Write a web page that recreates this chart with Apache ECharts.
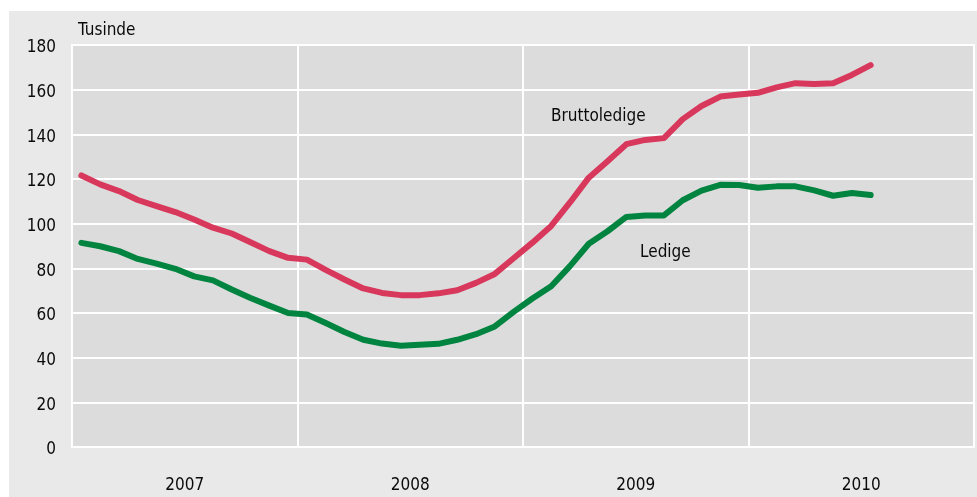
<!DOCTYPE html>
<html>
<head>
<meta charset="utf-8">
<script src="https://cdn.jsdelivr.net/npm/echarts@6/dist/echarts.min.js"></script>
<style>
html,body{margin:0;padding:0;background:#ffffff;}
#chart{width:977px;height:497px;}
</style>
</head>
<body>
<div id="chart"></div>
<script>
// Year labels on the x axis
const years = ['2007', '2008', '2009', '2010'];
// Monthly values, Jan 2007 - Jul 2010 (thousands)
const bruttoledige = [
  121.6, 117.6, 114.6, 110.6, 107.9, 105.2, 101.9, 98.2, 95.6, 91.7, 87.7, 84.7,
  83.9, 79.3, 75.0, 71.0, 69.0, 68.0, 68.0, 68.8, 70.2, 73.5, 77.5, 84.5,
  91.5, 99.0, 109.5, 120.6, 128.0, 135.6, 137.5, 138.3, 146.8, 152.7, 156.9, 157.8,
  158.6, 161.0, 162.9, 162.5, 162.9, 166.6, 171.0
];
const ledige = [
  91.4, 89.9, 87.7, 84.2, 82.1, 79.8, 76.4, 74.6, 70.5, 66.7, 63.3, 60.0,
  59.3, 55.5, 51.5, 48.0, 46.3, 45.3, 45.8, 46.2, 48.0, 50.5, 54.0, 60.5,
  66.5, 72.0, 81.0, 91.0, 96.6, 103.0, 103.7, 103.7, 110.5, 114.8, 117.4, 117.3,
  116.1, 116.7, 116.7, 114.9, 112.5, 113.7, 112.8
];
const seriesNames = ['Bruttoledige', 'Ledige'];
const unitLabel = 'Tusinde';

const FONT = '"DejaVu Sans Condensed", "DejaVu Sans", sans-serif';
const chart = echarts.init(document.getElementById('chart'), null, {renderer: 'canvas'});

const toPoints = arr => arr.map((v, i) => [i + 0.5, v]);

chart.setOption({
  backgroundColor: '#ffffff',
  animation: false,
  graphic: [
    {type: 'rect', left: 9, top: 11, z: -10, shape: {width: 968, height: 486}, style: {fill: '#e9e9e9'}},
    {type: 'text', left: 78, top: 22, style: {text: unitLabel, font: '17px ' + FONT, fill: '#0a0a0a'}},
    {type: 'text', left: 551, top: 108, z: 10, style: {text: seriesNames[0], font: '17px ' + FONT, fill: '#0a0a0a'}},
    {type: 'text', left: 640, top: 244, z: 10, style: {text: seriesNames[1], font: '17px ' + FONT, fill: '#0a0a0a'}}
  ],
  grid: {
    left: 72, top: 45, right: 3, bottom: 50,
    show: true, backgroundColor: '#dcdcdc', borderColor: '#ffffff', borderWidth: 2
  },
  xAxis: [
    {
      type: 'value', min: 0, max: 48, interval: 12,
      axisLine: {show: false}, axisTick: {show: false}, axisLabel: {show: false},
      splitLine: {show: true, lineStyle: {color: '#ffffff', width: 2}}
    },
    {
      type: 'category', data: years, position: 'bottom', boundaryGap: true,
      axisLine: {show: false}, axisTick: {show: false}, splitLine: {show: false},
      axisLabel: {margin: 30, fontSize: 17, fontFamily: FONT, color: '#0a0a0a'}
    }
  ],
  yAxis: {
    type: 'value', min: 0, max: 180, interval: 20,
    axisLine: {show: false}, axisTick: {show: false},
    axisLabel: {
      margin: 16, formatter: '{v|{value}}',
      rich: {v: {fontSize: 17, fontFamily: FONT, color: '#0a0a0a', padding: [6, 0, 0, 0]}}
    },
    splitLine: {show: true, lineStyle: {color: '#ffffff', width: 2}}
  },
  series: [
    {
      name: seriesNames[0], type: 'line', xAxisIndex: 0, data: toPoints(bruttoledige),
      showSymbol: false, smooth: false,
      lineStyle: {color: '#d8385b', width: 6, cap: 'round', join: 'round'}
    },
    {
      name: seriesNames[1], type: 'line', xAxisIndex: 0, data: toPoints(ledige),
      showSymbol: false, smooth: false,
      lineStyle: {color: '#00843f', width: 6, cap: 'round', join: 'round'}
    }
  ]
});
</script>
</body>
</html>
